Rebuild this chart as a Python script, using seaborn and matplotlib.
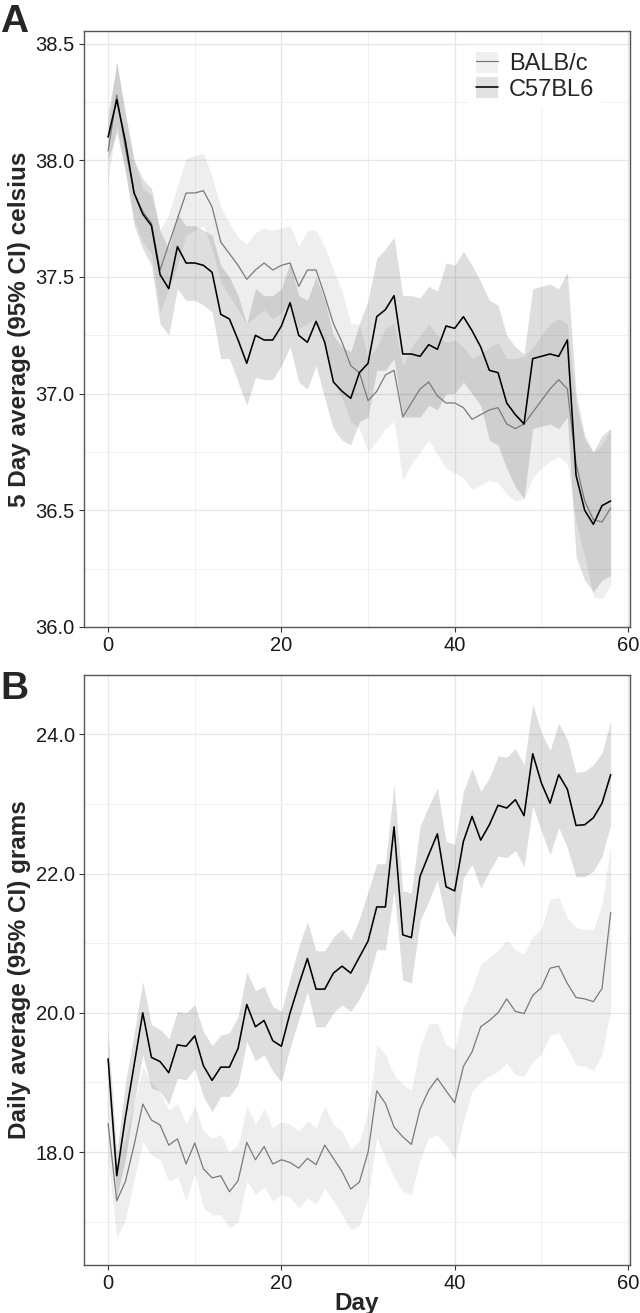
import numpy as np
import matplotlib
matplotlib.use('Agg')
import matplotlib.pyplot as plt
import seaborn as sns
from matplotlib.ticker import MultipleLocator, FormatStrFormatter
from matplotlib.patches import Patch
from matplotlib.lines import Line2D
from matplotlib.legend_handler import HandlerTuple

# days 0..58
days = list(range(59))

# Panel A: 5 day average body temperature (celsius)
balb_temp = [38.04, 38.28, 38.05, 37.86, 37.78, 37.73, 37.53, 37.64, 37.75, 37.86,
             37.86, 37.87, 37.80, 37.65, 37.60, 37.55, 37.49, 37.53, 37.56, 37.53,
             37.55, 37.56, 37.46, 37.53, 37.53, 37.42, 37.30, 37.22, 37.12, 37.09,
             36.97, 37.01, 37.08, 37.10, 36.90, 36.96, 37.02, 37.05, 36.99, 36.96,
             36.96, 36.94, 36.89, 36.91, 36.93, 36.94, 36.87, 36.85, 36.87, 36.92,
             36.97, 37.02, 37.06, 37.02, 36.70, 36.54, 36.46, 36.45, 36.51]
balb_temp_lo = [37.92, 38.15, 37.95, 37.75, 37.65, 37.60, 37.35, 37.45, 37.55, 37.68,
                37.70, 37.72, 37.62, 37.48, 37.42, 37.36, 37.30, 37.33, 37.36, 37.32,
                37.35, 37.38, 37.28, 37.30, 37.32, 37.20, 37.05, 36.98, 36.88, 36.85,
                36.75, 36.80, 36.85, 36.88, 36.63, 36.70, 36.75, 36.80, 36.74, 36.68,
                36.66, 36.64, 36.59, 36.61, 36.63, 36.62, 36.57, 36.54, 36.55, 36.64,
                36.68, 36.71, 36.73, 36.70, 36.45, 36.30, 36.13, 36.12, 36.18]
balb_temp_hi = [38.15, 38.42, 38.20, 38.00, 37.88, 37.85, 37.70, 37.77, 37.89, 38.01,
                38.02, 38.03, 37.93, 37.80, 37.73, 37.67, 37.64, 37.69, 37.71, 37.70,
                37.71, 37.72, 37.63, 37.70, 37.70, 37.63, 37.53, 37.44, 37.30, 37.30,
                37.15, 37.20, 37.28, 37.30, 37.12, 37.20, 37.25, 37.30, 37.25, 37.22,
                37.23, 37.20, 37.15, 37.17, 37.20, 37.22, 37.15, 37.15, 37.16, 37.20,
                37.25, 37.30, 37.32, 37.30, 36.95, 36.80, 36.75, 36.78, 36.85]

c57_temp = [38.10, 38.26, 38.08, 37.86, 37.77, 37.72, 37.51, 37.45, 37.63, 37.56,
            37.56, 37.55, 37.52, 37.34, 37.32, 37.23, 37.13, 37.25, 37.23, 37.23,
            37.29, 37.39, 37.25, 37.22, 37.31, 37.22, 37.05, 37.01, 36.98, 37.09,
            37.13, 37.33, 37.36, 37.42, 37.17, 37.17, 37.16, 37.21, 37.19, 37.29,
            37.28, 37.33, 37.27, 37.20, 37.10, 37.09, 36.96, 36.91, 36.87, 37.15,
            37.16, 37.17, 37.16, 37.23, 36.65, 36.50, 36.44, 36.52, 36.54]
c57_temp_lo = [38.00, 38.12, 37.95, 37.72, 37.62, 37.55, 37.30, 37.25, 37.45, 37.40,
               37.40, 37.38, 37.35, 37.15, 37.15, 37.05, 36.95, 37.07, 37.06, 37.06,
               37.12, 37.20, 37.05, 37.02, 37.12, 36.98, 36.85, 36.80, 36.78, 36.88,
               36.90, 37.10, 37.10, 37.15, 36.90, 36.90, 36.90, 36.95, 36.93, 37.00,
               37.00, 37.05, 37.00, 36.95, 36.80, 36.78, 36.68, 36.60, 36.55, 36.85,
               36.86, 36.87, 36.85, 36.90, 36.30, 36.20, 36.15, 36.20, 36.22]
c57_temp_hi = [38.20, 38.42, 38.20, 38.00, 37.92, 37.88, 37.70, 37.62, 37.77, 37.72,
               37.72, 37.70, 37.68, 37.55, 37.50, 37.42, 37.30, 37.45, 37.42, 37.42,
               37.45, 37.56, 37.42, 37.40, 37.50, 37.40, 37.25, 37.20, 37.18, 37.30,
               37.40, 37.58, 37.62, 37.67, 37.42, 37.42, 37.41, 37.46, 37.44, 37.56,
               37.55, 37.61, 37.55, 37.48, 37.40, 37.38, 37.25, 37.20, 37.17, 37.45,
               37.46, 37.47, 37.45, 37.52, 37.00, 36.82, 36.75, 36.82, 36.85]

# Panel B: daily average body weight (grams)
balb_wt = [18.41, 17.30, 17.58, 18.10, 18.69, 18.46, 18.39, 18.10, 18.19, 17.83,
           18.13, 17.76, 17.63, 17.66, 17.43, 17.59, 18.14, 17.89, 18.08, 17.83,
           17.89, 17.85, 17.77, 17.91, 17.82, 18.10, 17.91, 17.72, 17.47, 17.57,
           18.00, 18.88, 18.70, 18.36, 18.22, 18.11, 18.62, 18.89, 19.06, 18.88,
           18.71, 19.23, 19.44, 19.80, 19.89, 20.00, 20.20, 20.02, 19.99, 20.25,
           20.36, 20.64, 20.67, 20.42, 20.22, 20.20, 20.16, 20.35, 21.44]
balb_wt_lo = [17.90, 16.77, 17.03, 17.60, 18.15, 17.96, 17.89, 17.58, 17.65, 17.30,
              17.70, 17.20, 17.10, 17.10, 16.91, 17.00, 17.58, 17.40, 17.50, 17.30,
              17.39, 17.35, 17.20, 17.34, 17.25, 17.48, 17.30, 17.10, 16.89, 16.95,
              17.35, 18.20, 17.91, 17.63, 17.44, 17.39, 17.89, 18.20, 18.25, 18.10,
              17.91, 18.44, 18.87, 19.01, 19.09, 19.16, 19.28, 19.11, 19.09, 19.30,
              19.41, 19.68, 19.71, 19.49, 19.25, 19.23, 19.17, 19.40, 20.05]
balb_wt_hi = [19.00, 17.80, 18.20, 18.70, 19.23, 19.00, 18.85, 18.60, 18.70, 18.40,
              18.66, 18.30, 18.20, 18.25, 18.00, 18.10, 18.66, 18.40, 18.63, 18.35,
              18.44, 18.40, 18.30, 18.45, 18.35, 18.66, 18.40, 18.30, 18.05, 18.15,
              18.60, 19.54, 19.40, 19.11, 18.97, 18.89, 19.52, 19.84, 19.85, 19.54,
              19.47, 20.07, 20.35, 20.70, 20.80, 20.90, 21.05, 20.90, 20.85, 21.10,
              21.20, 21.63, 21.66, 21.36, 21.22, 21.20, 21.20, 21.55, 22.42]

c57_wt = [19.34, 17.66, 18.50, 19.25, 20.00, 19.36, 19.30, 19.14, 19.54, 19.52,
          19.67, 19.24, 19.03, 19.22, 19.22, 19.49, 20.12, 19.80, 19.89, 19.60,
          19.52, 20.00, 20.40, 20.78, 20.34, 20.34, 20.57, 20.67, 20.57, 20.80,
          21.03, 21.52, 21.52, 22.67, 21.12, 21.08, 21.96, 22.27, 22.57, 21.81,
          21.75, 22.46, 22.82, 22.48, 22.70, 22.98, 22.94, 23.06, 22.83, 23.72,
          23.30, 23.01, 23.42, 23.21, 22.69, 22.70, 22.80, 23.01, 23.42]
c57_wt_lo = [19.00, 17.35, 17.90, 18.70, 19.40, 18.92, 18.87, 18.69, 19.06, 19.04,
             19.20, 18.80, 18.58, 18.80, 18.80, 18.97, 19.59, 19.31, 19.40, 19.16,
             19.01, 19.50, 19.90, 20.30, 19.80, 19.80, 20.00, 20.11, 20.02, 20.20,
             20.45, 20.91, 20.90, 21.75, 20.47, 20.43, 21.32, 21.60, 21.91, 21.32,
             21.08, 21.94, 22.13, 21.79, 22.03, 22.25, 22.23, 22.33, 22.10, 22.97,
             22.61, 22.27, 22.66, 22.37, 21.95, 21.96, 22.03, 22.25, 22.70]
c57_wt_hi = [19.70, 18.00, 19.00, 19.70, 20.45, 19.83, 19.76, 19.63, 20.02, 20.00,
             20.12, 19.73, 19.53, 19.68, 19.71, 19.95, 20.59, 20.32, 20.38, 20.09,
             20.02, 20.50, 20.95, 21.31, 20.89, 20.89, 21.09, 21.20, 21.05, 21.35,
             21.74, 22.14, 22.14, 23.28, 21.75, 21.72, 22.68, 22.97, 23.23, 22.46,
             22.42, 23.18, 23.51, 23.18, 23.37, 23.69, 23.67, 23.79, 23.56, 24.44,
             24.02, 23.77, 24.16, 23.92, 23.45, 23.47, 23.56, 23.73, 24.19]

strains = ['BALB/c', 'C57BL6']
line_colors = {'BALB/c': '#7a7a7a', 'C57BL6': '#000000'}
line_widths = {'BALB/c': 0.9, 'C57BL6': 1.15}
band_alpha = {'BALB/c': 0.065, 'C57BL6': 0.13}

sns.set_theme(style="whitegrid")
plt.rcParams['font.family'] = ['Liberation Sans', 'DejaVu Sans']


def style_axes(ax, ylim, ymajor, yminor):
    """ggplot theme_bw 风格的坐标轴"""
    ax.set_facecolor('white')
    ax.set_xlim(-2.8, 60.2)
    ax.set_ylim(*ylim)
    ax.xaxis.set_major_locator(MultipleLocator(20))
    ax.xaxis.set_minor_locator(MultipleLocator(10))
    ax.yaxis.set_major_locator(MultipleLocator(ymajor))
    ax.yaxis.set_minor_locator(MultipleLocator(yminor))
    ax.yaxis.set_major_formatter(FormatStrFormatter('%.1f'))
    ax.grid(which='major', color='#e6e6e6', linewidth=0.9)
    ax.grid(which='minor', color='#efefef', linewidth=0.6)
    ax.set_axisbelow(True)
    ax.tick_params(which='major', length=3.5, width=0.8, color='#333333',
                   labelsize=14.5, labelcolor='#1a1a1a', pad=3,
                   left=True, bottom=True)
    ax.tick_params(which='minor', length=0)
    for sp in ax.spines.values():
        sp.set_visible(True)
        sp.set_color('#555555')
        sp.set_linewidth(1.0)


def draw_panel(ax, series):
    for strain, (mean, lo, hi) in series.items():
        ax.fill_between(days, lo, hi, color='black', alpha=band_alpha[strain],
                        linewidth=0, zorder=1)
    for strain, (mean, lo, hi) in series.items():
        sns.lineplot(x=days, y=mean, ax=ax, color=line_colors[strain],
                     linewidth=line_widths[strain], errorbar=None, zorder=3)


fig = plt.figure(figsize=(6.4, 13.13), dpi=100)
axA = fig.add_axes([0.131, 0.5225, 0.853, 0.4540])
axB = fig.add_axes([0.131, 0.0366, 0.853, 0.4493])

draw_panel(axA, {'BALB/c': (balb_temp, balb_temp_lo, balb_temp_hi),
                 'C57BL6': (c57_temp, c57_temp_lo, c57_temp_hi)})
draw_panel(axB, {'BALB/c': (balb_wt, balb_wt_lo, balb_wt_hi),
                 'C57BL6': (c57_wt, c57_wt_lo, c57_wt_hi)})

style_axes(axA, (36.0, 38.555), 0.5, 0.25)
style_axes(axB, (16.38, 24.85), 2.0, 1.0)

axA.set_xlabel('')
axA.set_ylabel('5 Day average (95% CI) celsius', fontsize=17.5, fontweight='bold')
axB.set_ylabel('Daily average (95% CI) grams', fontsize=17.5, fontweight='bold')
axB.set_xlabel('Day', fontsize=17.5, fontweight='bold', labelpad=-1)
axA.yaxis.set_label_coords(-0.097, 0.5)
axB.yaxis.set_label_coords(-0.097, 0.5)

# legend: band + line keys
handles = []
for strain in strains:
    patch = Patch(facecolor='black', alpha=band_alpha[strain] * 0.9, edgecolor='none')
    line = Line2D([], [], color=line_colors[strain], linewidth=line_widths[strain])
    handles.append((patch, line))
leg = axA.legend(handles, strains, handler_map={tuple: HandlerTuple(ndivide=1, pad=0)},
                 loc='upper left', bbox_to_anchor=(0.705, 0.977), fontsize=17,
                 frameon=True, facecolor='white', edgecolor='none', framealpha=1,
                 handlelength=0.95, handleheight=1.0, handletextpad=0.45,
                 labelspacing=0.08, borderpad=0.3, borderaxespad=0.0)
leg.set_zorder(5)

fig.text(0.0, 0.9756, 'A', fontsize=28, fontweight='bold', va='baseline', ha='left')
fig.text(0.0, 0.4676, 'B', fontsize=28, fontweight='bold', va='baseline', ha='left')

fig.savefig('out.png', dpi=100, facecolor='white')
